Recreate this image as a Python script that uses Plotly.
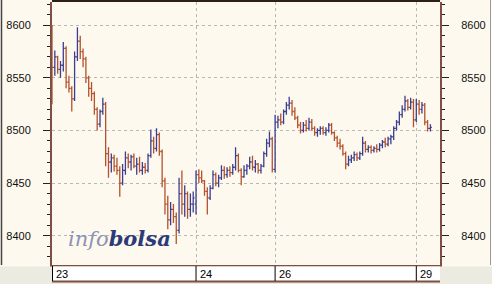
import plotly.graph_objects as go

# 10-minute bars, sessions of 23, 24, 26 and 29 (index positions)
day_labels = ["23", "24", "26", "29"]
day_start_bar = [0, 51, 79, 129]

opens = [
    8590, 8560, 8570, 8558, 8562, 8578, 8546, 8540, 8530, 8570,
    8585, 8575, 8568, 8550, 8540, 8535, 8520, 8506, 8518, 8525,
    8478, 8470, 8474, 8466, 8462, 8450, 8462, 8474, 8470, 8475,
    8466, 8468, 8462, 8465, 8462, 8476, 8490, 8483, 8496, 8480,
    8452, 8430, 8415, 8425, 8418, 8405, 8440, 8430, 8440, 8425,
    8430,
    8430, 8458, 8455, 8452, 8442, 8436, 8445, 8458, 8450, 8455,
    8462, 8458, 8462, 8460, 8465, 8476, 8462, 8456, 8462, 8466,
    8470, 8465, 8468, 8462, 8466, 8478, 8488, 8492,
    8463, 8508, 8510, 8508, 8518, 8524, 8526, 8518, 8512, 8505,
    8500, 8505, 8502, 8508, 8502, 8498, 8500, 8502, 8498, 8500,
    8505, 8498, 8493, 8488, 8485, 8478, 8468, 8472, 8474, 8477,
    8474, 8478, 8488, 8482, 8484, 8481, 8483, 8482, 8486, 8489,
    8487, 8492, 8494, 8502, 8508, 8515, 8520, 8528, 8522, 8527,
    8510, 8525, 8520, 8524, 8508, 8502,
]
highs = [
    8600, 8576, 8571, 8566, 8584, 8580, 8552, 8542, 8575, 8598,
    8590, 8578, 8570, 8552, 8546, 8537, 8522, 8520, 8531, 8527,
    8484, 8478, 8477, 8474, 8466, 8468, 8480, 8478, 8477, 8478,
    8474, 8475, 8470, 8469, 8478, 8501, 8494, 8502, 8498, 8482,
    8455, 8438, 8432, 8430, 8422, 8455, 8462, 8448, 8442, 8440,
    8442,
    8462, 8463, 8462, 8453, 8446, 8448, 8462, 8460, 8458, 8467,
    8466, 8465, 8466, 8468, 8484, 8478, 8464, 8467, 8468, 8475,
    8476, 8472, 8469, 8468, 8480, 8492, 8499, 8494,
    8515, 8514, 8516, 8520, 8527, 8532, 8529, 8522, 8514, 8508,
    8508, 8510, 8512, 8511, 8504, 8502, 8504, 8504, 8503, 8507,
    8507, 8499, 8495, 8492, 8487, 8480, 8476, 8477, 8480, 8479,
    8480, 8494, 8490, 8486, 8486, 8485, 8487, 8488, 8491, 8493,
    8494, 8496, 8504, 8510, 8518, 8524, 8533, 8530, 8531, 8530,
    8530, 8529, 8527, 8526, 8510, 8506,
]
lows = [
    8525, 8552, 8554, 8550, 8556, 8540, 8536, 8518, 8528, 8566,
    8568, 8560, 8545, 8532, 8528, 8515, 8500, 8503, 8515, 8466,
    8455, 8460, 8461, 8458, 8437, 8448, 8458, 8464, 8462, 8464,
    8458, 8460, 8458, 8459, 8460, 8474, 8478, 8480, 8476, 8446,
    8420, 8406, 8410, 8412, 8392, 8402, 8420, 8418, 8416, 8418,
    8422,
    8420, 8450, 8450, 8438, 8420, 8434, 8444, 8447, 8446, 8453,
    8454, 8455, 8456, 8458, 8462, 8460, 8448, 8455, 8458, 8463,
    8462, 8460, 8459, 8459, 8465, 8475, 8484, 8460,
    8460, 8502, 8505, 8506, 8515, 8520, 8514, 8510, 8502, 8497,
    8498, 8499, 8500, 8500, 8495, 8494, 8496, 8496, 8495, 8498,
    8496, 8490, 8484, 8482, 8476, 8463, 8466, 8469, 8471, 8471,
    8472, 8476, 8479, 8479, 8478, 8479, 8479, 8480, 8483, 8484,
    8485, 8487, 8491, 8500, 8505, 8512, 8518, 8519, 8520, 8503,
    8508, 8515, 8516, 8505, 8499, 8499,
]
closes = [
    8560, 8570, 8558, 8562, 8578, 8546, 8540, 8530, 8570, 8585,
    8575, 8568, 8550, 8540, 8535, 8520, 8506, 8518, 8525, 8478,
    8470, 8474, 8466, 8462, 8450, 8462, 8474, 8470, 8475, 8466,
    8468, 8462, 8465, 8462, 8476, 8490, 8483, 8496, 8480, 8452,
    8430, 8415, 8425, 8418, 8405, 8440, 8430, 8440, 8425, 8430,
    8436,
    8458, 8455, 8452, 8442, 8436, 8445, 8458, 8450, 8455, 8462,
    8458, 8462, 8460, 8465, 8476, 8462, 8456, 8462, 8466, 8470,
    8465, 8468, 8462, 8466, 8478, 8488, 8492, 8463,
    8508, 8510, 8508, 8518, 8524, 8526, 8518, 8512, 8505, 8500,
    8505, 8502, 8508, 8502, 8498, 8500, 8502, 8498, 8500, 8505,
    8498, 8493, 8488, 8485, 8478, 8468, 8472, 8474, 8477, 8474,
    8478, 8488, 8482, 8484, 8481, 8483, 8482, 8486, 8489, 8487,
    8492, 8494, 8502, 8508, 8515, 8520, 8528, 8522, 8527, 8510,
    8525, 8520, 8524, 8508, 8502, 8503,
]
bars = list(range(len(closes)))

y_ticks = [8400, 8450, 8500, 8550, 8600]

BROWN = "#7f4f42"
UP = "#3c3f8e"
DOWN = "#b4522e"
BG = "#fdf9ee"

fig = go.Figure()
fig.add_trace(go.Ohlc(
    x=bars, open=opens, high=highs, low=lows, close=closes,
    increasing=dict(line=dict(color=UP, width=1.3)),
    decreasing=dict(line=dict(color=DOWN, width=1.3)),
    tickwidth=0.5, showlegend=False, hoverinfo="skip",
))
fig.add_trace(go.Scatter(x=[None], y=[None], yaxis="y2", showlegend=False, hoverinfo="skip"))

W, H = 492, 284
L, R, T, B = 52, 52, 2, 19
PW, PH = W - L - R, H - T - B

def px(xp):
    return (xp - L) / PW

def py(yp):
    return (H - B - yp) / PH

yr = [8372.1, 8622.1]
yax = dict(
    range=yr, tickvals=y_ticks, ticks="outside", ticklen=7, tickcolor="#222",
    showline=True, linecolor=BROWN, linewidth=2,
    showgrid=True, gridcolor="#b8b8b8", griddash="3px,3px", gridwidth=1,
    zeroline=False, tickfont=dict(family="Liberation Sans, Arial", size=11, color="#111"),
    minor=dict(dtick=10, tick0=8400, ticklen=3, ticks="outside", tickcolor="#222", showgrid=False),
    ticklabelstandoff=10, fixedrange=True,
)
fig.update_layout(
    width=W, height=H, margin=dict(l=L, r=R, t=T, b=B),
    paper_bgcolor=BG, plot_bgcolor=BG,
    xaxis=dict(
        range=[0, PW / 2.824], tickvals=day_start_bar[1:], showticklabels=False, ticks="",
        showgrid=True, gridcolor="#b8b8b8", griddash="3px,3px", gridwidth=1,
        showline=True, linecolor=BROWN, linewidth=2, zeroline=False,
        rangeslider=dict(visible=False), fixedrange=True,
    ),
    yaxis=yax,
    yaxis2=dict(yax, overlaying="y", side="right", anchor="x"),
)

shapes = []
# bottom grey band
shapes.append(dict(type="rect", xref="paper", yref="paper", x0=px(0), x1=px(W),
                   y0=py(266.5), y1=py(H + 1), fillcolor="#ecebe2", line=dict(width=0)))
# white date strip
shapes.append(dict(type="rect", xref="paper", yref="paper", x0=0, x1=1,
                   y0=py(281), y1=py(266.5), fillcolor="white", line=dict(width=0)))
shapes.append(dict(type="line", xref="paper", yref="paper", x0=0, x1=1,
                   y0=py(281.5), y1=py(281.5), line=dict(color=BROWN, width=2)))
for i, b in enumerate(day_start_bar):
    shapes.append(dict(type="line", xref="x", yref="paper", x0=b, x1=b,
                       y0=py(266), y1=py(281), line=dict(color="#000", width=2 if i == 0 else 1)))
# top border
shapes.append(dict(type="line", xref="paper", yref="paper", x0=0, x1=1,
                   y0=py(1), y1=py(1), line=dict(color="#2e1f18", width=2)))
# outer left / right lines
shapes.append(dict(type="line", xref="paper", yref="paper", x0=px(1.5), x1=px(1.5),
                   y0=py(0), y1=py(265), line=dict(color="#444", width=1.5)))
shapes.append(dict(type="line", xref="paper", yref="paper", x0=px(490.5), x1=px(490.5),
                   y0=py(0), y1=py(265), line=dict(color="#9a9a9a", width=1)))
fig.update_layout(shapes=shapes)

ann = []
for lab, b in zip(day_labels, day_start_bar):
    ann.append(dict(x=b, xref="x", y=py(274), yref="paper", text=lab, showarrow=False,
                    xanchor="left", yanchor="middle", xshift=2,
                    font=dict(family="Liberation Sans, Arial", size=11, color="#000")))
ann.append(dict(x=px(66), xref="paper", y=py(238), yref="paper", showarrow=False,
                xanchor="left", yanchor="middle",
                text="<span style='color:#8e92b6'><i>info</i></span><span style='color:#2c3a78'><b><i>bolsa</i></b></span>",
                font=dict(family="DejaVu Serif, serif", size=21)))
fig.update_layout(annotations=ann)

fig.write_html("out.html")
